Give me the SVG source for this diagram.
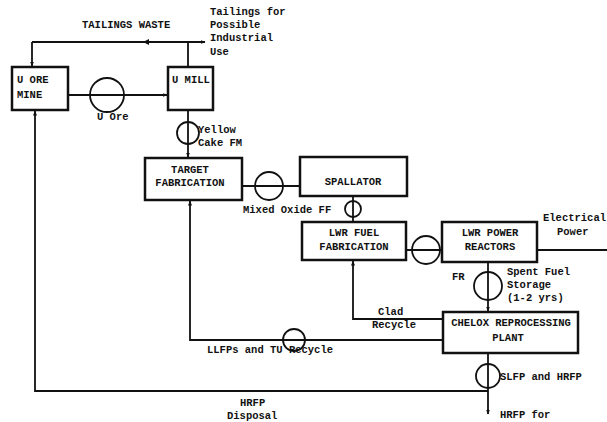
<svg xmlns="http://www.w3.org/2000/svg" width="607" height="422" viewBox="0 0 607 422">
<style>
.box{fill:#fff;stroke:#111;stroke-width:2.5}
.ln{fill:none;stroke:#111;stroke-width:1.8}
.c{fill:none;stroke:#111;stroke-width:1.8}
text{font-family:"Liberation Mono",monospace;font-weight:bold;font-size:10.5px;fill:#111}
.m{text-anchor:middle}
</style>
<defs>
<marker id="ah" viewBox="0 0 10 10" refX="9" refY="5" markerWidth="5" markerHeight="5" orient="auto" markerUnits="userSpaceOnUse">
<path d="M0,1 L10,5 L0,9 Z" fill="#111"/>
</marker>
</defs>
<rect width="607" height="422" fill="#fff"/>
<g id="connectors">
<path class="ln" d="M188,67 V42"/>
<path class="ln" d="M32,42 H205" marker-end="url(#ah)"/>
<path class="ln" d="M32,42 V66" marker-end="url(#ah)"/>
<path d="M143,42 L149,39 L149,45 Z" fill="#111"/>
<path class="ln" d="M68,95 H167" marker-end="url(#ah)"/>
<circle class="c" cx="107" cy="95" r="17"/>
<path class="ln" d="M188,110 V157" marker-end="url(#ah)"/>
<circle class="c" cx="188" cy="133" r="11"/>
<path class="ln" d="M242,186 H300"/>
<circle class="c" cx="269" cy="186" r="14"/>
<path class="ln" d="M353,196 V222"/>
<circle class="c" cx="353" cy="209" r="8"/>
<path class="ln" d="M406,250 H442"/>
<circle class="c" cx="426" cy="250" r="14"/>
<path class="ln" d="M537,250 H607"/>
<path class="ln" d="M488,262 V311" marker-end="url(#ah)"/>
<circle class="c" cx="488" cy="286" r="14"/>
<path class="ln" d="M443,319 H353 V261" marker-end="url(#ah)"/>
<path class="ln" d="M443,340 H190 V201" marker-end="url(#ah)"/>
<circle class="c" cx="294" cy="340" r="11"/>
<path class="ln" d="M488,353 V414" marker-end="url(#ah)"/>
<circle class="c" cx="488" cy="376" r="12"/>
<path class="ln" d="M488,391 H35 V111" marker-end="url(#ah)"/>
</g>
<g id="mine"><rect class="box" x="12" y="67" width="56" height="43"/><text x="17" y="83">U ORE</text><text x="17" y="98">MINE</text></g>
<g id="mill"><rect class="box" x="168" y="67" width="45" height="43"/><text x="172" y="83">U MILL</text></g>
<g id="target"><rect class="box" x="145" y="158" width="97" height="42"/><text class="m" x="190" y="173">TARGET</text><text class="m" x="190" y="186">FABRICATION</text></g>
<g id="spallator"><rect class="box" x="300" y="157" width="107" height="39"/><text class="m" x="353" y="185">SPALLATOR</text></g>
<g id="fuelfab"><rect class="box" x="302" y="222" width="104" height="38"/><text class="m" x="354" y="236">LWR FUEL</text><text class="m" x="354" y="250">FABRICATION</text></g>
<g id="reactors"><rect class="box" x="442" y="222" width="95" height="40"/><text class="m" x="490" y="236">LWR POWER</text><text class="m" x="490" y="250">REACTORS</text></g>
<g id="chelox"><rect class="box" x="443" y="312" width="135" height="41"/><text class="m" x="511" y="326">CHELOX REPROCESSING</text><text class="m" x="508" y="341">PLANT</text></g>
<g id="labels">
<text x="82" y="28">TAILINGS WASTE</text>
<text x="210" y="15">Tailings for</text>
<text x="210" y="28">Possible</text>
<text x="210" y="41">Industrial</text>
<text x="210" y="55">Use</text>
<text x="97" y="120">U Ore</text>
<text x="198" y="133">Yellow</text>
<text x="198" y="146">Cake FM</text>
<text x="243" y="213">Mixed Oxide FF</text>
<text x="452" y="280">FR</text>
<text x="543" y="221">Electrical</text>
<text x="557" y="235">Power</text>
<text x="507" y="275">Spent Fuel</text>
<text x="507" y="288">Storage</text>
<text x="507" y="301">(1-2 yrs)</text>
<text x="378" y="315">Clad</text>
<text x="372" y="328">Recycle</text>
<text x="207" y="353">LLFPs and TU Recycle</text>
<text x="500" y="380">SLFP and HRFP</text>
<text x="240" y="406">HRFP</text>
<text x="227" y="419">Disposal</text>
<text x="500" y="418">HRFP for</text>
</g>
</svg>
